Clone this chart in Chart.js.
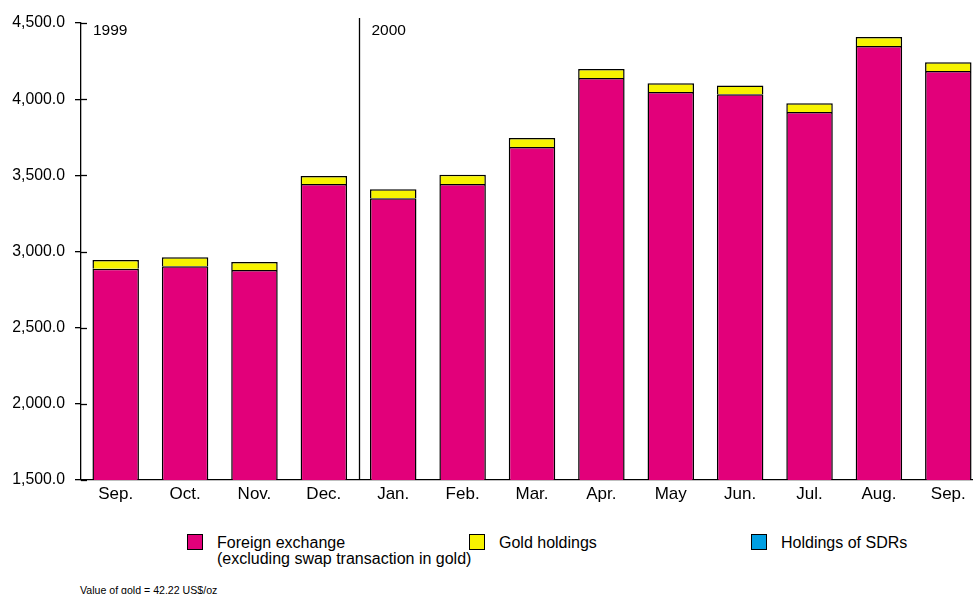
<!DOCTYPE html>
<html>
<head>
<meta charset="utf-8">
<script src="https://cdn.jsdelivr.net/npm/chart.js@4.4.1/dist/chart.umd.min.js"></script>
<style>
  html, body { margin: 0; padding: 0; background: #fff; overflow: hidden; }
  body { width: 973px; height: 594px; position: relative; font-family: "Liberation Sans", Arial, sans-serif; }
  #wrap { position: absolute; left: 0; top: 0; width: 983px; height: 510px; }
  #legend { position: absolute; left: 187px; top: 534px; display: flex; font-size: 16px; color: #000; }
  #legend .item { width: 282px; display: flex; align-items: flex-start; }
  #legend .box { width: 14px; height: 14px; border: 1.5px solid #000; margin-right: 14px; flex: none; }
  #legend .txt { white-space: pre; line-height: 16px; margin-top: 1px; }
  #note { position: absolute; left: 80px; top: 584px; font-size: 10.6px; color: #000; }
</style>
</head>
<body>
<div id="wrap"><canvas id="chart"></canvas></div>
<div id="legend"></div>
<div id="note">Value of gold = 42.22 US$/oz</div>
<script>
// months shown on the x axis
const months = ['Sep.', 'Oct.', 'Nov.', 'Dec.', 'Jan.', 'Feb.', 'Mar.', 'Apr.', 'May', 'Jun.', 'Jul.', 'Aug.', 'Sep.']
// year markers: label and index of first month
const yearLabels = ['1999', '2000']
const yearStarts = [0, 4]

// values in US$ million
const foreignExchange = [2887, 2903, 2879, 3443, 3349, 3443, 3686, 4139, 4047, 4032, 3916, 4349, 4185]
const goldHoldings = [57, 59, 52, 53, 59, 61, 59, 59, 57, 57, 57, 59, 57]
const sdrHoldings = [0.3, 0.3, 0.3, 0.3, 0.3, 0.3, 0.3, 0.3, 0.3, 0.3, 0.3, 0.3, 0.3]

const yTicks = [1500, 2000, 2500, 3000, 3500, 4000, 4500]

const FAMILY = '"Liberation Sans", Arial, sans-serif'

// draws the part of the y ticks inside the plot, the year divider and year labels
const decorations = {
  id: 'decorations',
  afterDraw (chart) {
    const ctx = chart.ctx
    const x = chart.scales.x
    const y = chart.scales.y
    const area = chart.chartArea
    ctx.save()
    ctx.strokeStyle = '#000'
    ctx.lineWidth = 1.3
    for (const v of yTicks) {
      const py = Math.round(y.getPixelForValue(v)) + 0.5
      ctx.beginPath()
      ctx.moveTo(area.left, py)
      ctx.lineTo(area.left + 6, py)
      ctx.stroke()
    }
    ctx.fillStyle = '#000'
    ctx.font = '15.5px ' + FAMILY
    ctx.textBaseline = 'middle'
    yearStarts.forEach((idx, i) => {
      let px = area.left
      if (idx > 0) {
        px = Math.round((x.getPixelForValue(idx - 1) + x.getPixelForValue(idx)) / 2) + 0.5
        ctx.beginPath()
        ctx.moveTo(px, area.top - 5)
        ctx.lineTo(px, area.bottom)
        ctx.stroke()
      }
      ctx.fillText(yearLabels[i], px + 12, area.top + 8)
    })
    ctx.restore()
  }
}

const chart = new Chart(document.getElementById('chart'), {
  type: 'bar',
  data: {
    labels: months,
    datasets: [
      {
        label: 'Foreign exchange\n(excluding swap transaction in gold)',
        data: foreignExchange,
        backgroundColor: '#e2007a',
        borderColor: '#000',
        borderWidth: 1.5
      },
      {
        label: 'Gold holdings',
        data: goldHoldings,
        backgroundColor: '#f7f300',
        borderColor: '#000',
        borderWidth: 1.5
      },
      {
        label: 'Holdings of SDRs',
        data: sdrHoldings,
        backgroundColor: '#009fe3',
        borderColor: '#000',
        borderWidth: 0
      }
    ]
  },
  options: {
    responsive: true,
    maintainAspectRatio: false,
    animation: false,
    layout: { padding: { top: 23, left: 0, right: 0, bottom: 0 } },
    datasets: { bar: { categoryPercentage: 1, barPercentage: 0.67 } },
    plugins: {
      legend: { display: false },
      tooltip: { enabled: false }
    },
    scales: {
      x: {
        stacked: true,
        grid: { display: false, drawTicks: false },
        border: { display: true, color: '#000', width: 1.3 },
        ticks: { color: '#000', font: { family: FAMILY, size: 17 }, padding: 4, maxRotation: 0, autoSkip: false },
        afterFit (scale) { scale.height = 30 }
      },
      y: {
        stacked: true,
        min: 1500,
        max: 4500,
        afterBuildTicks (scale) { scale.ticks = yTicks.map(v => ({ value: v })) },
        grid: { drawOnChartArea: false, drawTicks: true, tickLength: 6, color: '#000', lineWidth: 1.3 },
        border: { display: true, color: '#000', width: 1.3 },
        ticks: {
          color: '#000',
          font: { family: FAMILY, size: 15.8 },
          padding: 10,
          callback: v => v.toLocaleString('en-US', { minimumFractionDigits: 1, maximumFractionDigits: 1 })
        },
        afterFit (scale) { scale.width = 81 }
      }
    }
  },
  plugins: [decorations]
})

// html legend built from the datasets
const legendEl = document.getElementById('legend')
for (const ds of chart.data.datasets) {
  const item = document.createElement('div')
  item.className = 'item'
  const box = document.createElement('span')
  box.className = 'box'
  box.style.background = ds.backgroundColor
  const txt = document.createElement('span')
  txt.className = 'txt'
  txt.textContent = ds.label
  item.appendChild(box)
  item.appendChild(txt)
  legendEl.appendChild(item)
}
</script>
</body>
</html>
